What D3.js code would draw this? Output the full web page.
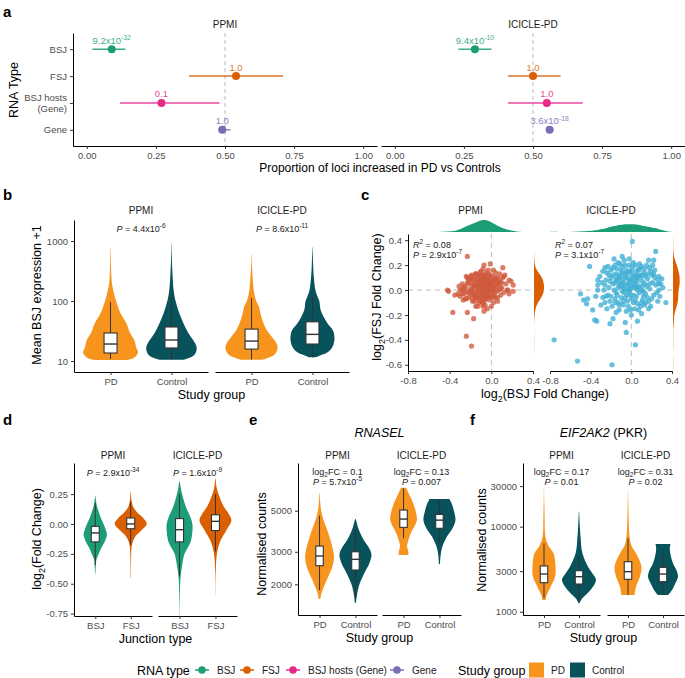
<!DOCTYPE html>
<html>
<head>
<meta charset="utf-8">
<script src="https://cdn.jsdelivr.net/npm/d3@7"></script>
<style>
  body { margin: 0; background: #fff; }
</style>
</head>
<body>
<div id="main"></div>
<script>
// ---------- panel a: proportion of loci increased in PD
var rnaTypes = ["BSJ", "FSJ", "BSJ hosts (Gene)", "Gene"];
var rnaColours = ["#1B9E77", "#D95F02", "#E7298A", "#7570B3"];
var cohorts = ["PPMI", "ICICLE-PD"];
var propPPMI = [0.09, 0.54, 0.27, 0.49];
var lowPPMI = [0.02, 0.37, 0.12, 0.475];
var highPPMI = [0.14, 0.71, 0.48, 0.52];
var pvalPPMI = ["9.2x10^{-32}", "1.0", "0.1", "1.0"];
var propICICLE = [0.29, 0.50, 0.55, 0.56];
var lowICICLE = [0.23, 0.41, 0.41, 0.55];
var highICICLE = [0.35, 0.60, 0.68, 0.575];
var pvalICICLE = ["9.4x10^{-10}", "1.0", "1.0", "3.6x10^{-18}"];
var propTicks = [0, 0.25, 0.5, 0.75, 1];

// ---------- panel b: mean BSJ expression (violin profiles: [value, relative density])
var groups = ["PD", "Control"];
var groupColours = ["#F7941D", "#08525C"];
var bsjPvals = ["*P* = 4.4x10^{-6}", "*P* = 8.6x10^{-11}"];
var bsjTicks = [10, 100, 1000];
var bsjPdPPMI = [[10.4, 0.6], [11, 0.8], [12.5, 0.95], [14, 1.0], [17, 0.93], [22, 0.87], [30, 0.7], [42, 0.58], [60, 0.38], [80, 0.27], [100, 0.2], [150, 0.1], [200, 0.05], [300, 0.025], [500, 0.012], [760, 0.005]];
var bsjCtrlPPMI = [[10.5, 0.45], [11.5, 0.7], [13, 0.85], [15, 0.91], [17.5, 0.91], [22, 0.8], [30, 0.6], [42, 0.44], [60, 0.3], [100, 0.15], [150, 0.08], [300, 0.035], [500, 0.015], [930, 0.004]];
var bsjPdICICLE = [[10.5, 0.4], [11.5, 0.65], [13, 0.85], [16.5, 0.95], [20, 0.9], [25, 0.75], [33, 0.55], [42, 0.44], [60, 0.33], [80, 0.27], [100, 0.17], [150, 0.08], [200, 0.055], [350, 0.02], [610, 0.005]];
var bsjCtrlICICLE = [[11.5, 0.1], [12.5, 0.3], [14, 0.55], [17, 0.72], [21, 0.79], [25, 0.8], [32, 0.75], [42, 0.55], [55, 0.4], [70, 0.3], [85, 0.27], [100, 0.25], [120, 0.18], [150, 0.11], [250, 0.05], [400, 0.025], [790, 0.005]];
// box stats: [lower whisker, Q1, median, Q3, upper whisker]
var bsjBoxPdPPMI = [10.8, 13.6, 19.2, 29.3, 96];
var bsjBoxCtrlPPMI = [10.6, 16.5, 22.4, 36.9, 125];
var bsjBoxPdICICLE = [10.6, 15.8, 21.5, 34, 112];
var bsjBoxCtrlICICLE = [11.5, 19.2, 27.8, 45, 120];

// ---------- panel c: log2 fold changes [BSJ, FSJ]
var fcPPMI = [[-0.05,0.01],[-0.03,0.02],[-0.07,-0.01],[-0.02,-0.02],[-0.09,0.03],[-0.04,0.05],[-0.06,-0.04],[-0.01,0.04],[-0.11,0.0],[-0.08,0.06],[0.0,0.0],[-0.03,-0.05],[-0.13,0.02],[-0.06,0.08],[0.02,0.03],[-0.1,-0.05],[-0.04,0.1],[0.03,-0.03],[-0.15,-0.02],[-0.12,0.07],[0.01,0.08],[-0.07,0.12],[-0.02,-0.08],[-0.09,-0.08],[0.05,0.05],[-0.17,0.04],[0.04,-0.06],[-0.14,-0.06],[-0.05,0.14],[0.06,0.1],[-0.11,0.11],[-0.19,0.0],[0.07,0.0],[-0.01,0.12],[-0.08,-0.1],[-0.2,-0.04],[0.08,0.06],[-0.16,0.09],[0.02,-0.1],[-0.12,-0.1],[0.1,0.02],[-0.22,0.05],[-0.03,0.16],[0.09,-0.04],[-0.06,-0.12],[-0.24,-0.01],[0.11,0.1],[-0.18,-0.09],[0.04,0.14],[-0.1,0.15],[-0.26,0.03],[0.12,-0.02],[-0.15,0.13],[0.0,-0.13],[-0.21,0.09],[0.14,0.05],[-0.28,-0.03],[0.06,-0.09],[-0.13,-0.13],[0.13,0.12],[-0.08,0.17],[0.02,0.16],[-0.3,0.0],[0.16,0.0],[-0.25,-0.07],[-0.19,0.12],[-0.04,-0.15],[0.08,0.13],[-0.23,0.1],[0.17,0.08],[-0.06,0.03],[-0.02,0.06],[-0.08,0.0],[-0.04,-0.02],[0.0,0.05],[-0.1,0.04],[-0.05,-0.06],[-0.01,-0.04],[-0.12,-0.03],[-0.07,0.09],[0.03,0.01],[-0.03,0.08],[-0.09,-0.03],[0.01,-0.06],[-0.14,0.05],[-0.06,0.06],[-0.11,0.08],[0.04,0.09],[-0.16,-0.05],[0.05,-0.01],[-0.23,0.27],[-0.42,0.0],[-0.41,-0.01],[-0.37,-0.18],[-0.24,-0.37],[-0.19,-0.45],[-0.17,-0.23],[-0.23,-0.18],[-0.15,-0.13],[-0.08,-0.13],[-0.07,-0.17],[-0.32,-0.03],[-0.28,0.0],[-0.07,0.2],[-0.01,0.21],[0.11,0.18],[0.21,-0.01],[0.21,0.04],[0.15,0.0],[0.12,0.11],[-0.35,-0.04],[0.19,0.07],[0.17,-0.03],
  [-0.25,0.02],[-0.22,-0.02],[-0.2,0.01],[-0.18,-0.01],[-0.16,0.02],[-0.14,0.03],[-0.12,0.0],[-0.1,0.01],[-0.08,-0.01],[-0.06,0.02],[-0.04,0.0],[-0.02,0.02],[0.0,0.01],[0.02,-0.01],[-0.23,0.06],[-0.21,0.08],[-0.17,0.09],[-0.13,0.1],[-0.09,0.07],[-0.05,0.09],[-0.01,0.06],[0.03,0.08],[0.05,0.03],[-0.26,-0.03],[-0.22,-0.06],[-0.18,-0.07],[-0.14,-0.06],[-0.1,-0.09],[-0.06,-0.08],[-0.02,-0.06],[0.02,-0.05],[-0.16,-0.09],[-0.12,-0.07],[-0.08,-0.11],[-0.04,-0.03],[-0.19,0.11],[-0.15,0.13],[-0.11,0.14],[-0.07,0.12],[-0.03,0.13],[0.01,0.11],[0.05,0.07],[0.07,0.04],[0.09,0.01],[-0.28,0.05],[-0.3,-0.05],[-0.27,-0.08],[-0.24,0.11],[-0.31,0.03],[0.06,-0.06],[0.04,0.1],[-0.18,0.04],[-0.14,-0.02],[-0.1,0.05],[-0.06,0.04],[-0.02,0.05],[-0.12,0.07],[-0.16,0.06],[-0.08,0.09],[-0.04,-0.05],[-0.2,0.07],[-0.22,0.09],[0.0,0.04],[-0.13,0.12],[-0.09,-0.04],[-0.05,0.11],[-0.17,-0.04],[-0.11,0.04],[0.01,0.06],[-0.07,-0.07],[0.1,0.06],[0.08,0.08],[-0.24,-0.07],[-0.27,0.01],[-0.02,0.1],[-0.1,0.11],[-0.19,-0.01],[-0.15,-0.05]];
var fcICICLE = [[0.01,0.39],[-0.76,-0.4],[-0.53,-0.57],[-0.19,-0.6],[0.04,-0.44],[-0.05,-0.34],[-0.41,0.19],[-0.5,-0.03],[0.34,-0.1],[0.24,0.31],[-0.34,-0.25],[-0.36,-0.24],[-0.18,-0.23],[-0.21,-0.27],[0.06,-0.25],[-0.06,-0.26],[-0.38,-0.16],[-0.44,-0.11],[-0.43,-0.07],[-0.47,-0.08],[0.27,0.0],[0.29,0.05],[0.22,0.24],[0.17,0.24],[-0.09,0.27],[-0.17,0.25],[-0.02,0.25],[-0.23,0.19],[-0.28,0.15],[-0.31,0.11],[-0.33,0.04],[-0.33,0.0],[0.27,0.11],[0.22,0.13],[0.17,-0.15],[0.1,-0.19],[0.0,-0.2],[-0.25,0.08],[-0.22,0.02],[-0.2,-0.05],[-0.18,0.12],[-0.16,0.06],[-0.15,-0.02],[-0.14,0.17],[-0.13,-0.1],[-0.12,0.1],[-0.11,0.03],[-0.1,-0.06],[-0.09,0.14],[-0.08,0.06],[-0.07,-0.02],[-0.06,0.2],[-0.05,0.1],[-0.04,-0.09],[-0.03,0.04],[-0.02,0.15],[-0.01,-0.04],[0.0,0.08],[0.01,0.18],[0.02,-0.1],[0.03,0.02],[0.04,0.12],[0.05,-0.05],[0.06,0.07],[0.07,0.16],[0.08,-0.02],[0.09,0.1],[0.1,0.03],[0.11,-0.08],[0.12,0.14],[0.13,0.05],[0.14,-0.03],[0.15,0.2],[0.16,0.09],[0.18,0.01],[0.19,0.15],[0.2,-0.07],[0.21,0.06],[0.23,0.1],[0.25,-0.02],[-0.27,0.0],[-0.26,-0.1],[-0.24,0.14],[-0.23,-0.04],[-0.21,0.07],[-0.19,-0.13],[-0.17,0.0],[-0.16,0.2],[-0.14,0.08],[-0.13,0.02],[-0.12,-0.16],[-0.11,0.21],[-0.1,0.11],[-0.09,-0.01],[-0.08,-0.12],[-0.07,0.09],[-0.06,0.01],[-0.05,0.16],[-0.04,0.05],[-0.03,-0.13],[-0.02,0.09],[-0.01,0.01],[0.0,-0.07],[0.01,0.12],[0.02,0.05],[0.03,-0.15],[0.04,0.2],[0.05,0.1],[0.06,-0.11],[0.07,0.03],[0.08,0.12],[0.09,-0.13],[0.1,0.19],[0.11,0.07],[0.12,-0.01],[0.13,-0.12],[0.14,0.11],[0.15,0.03],[0.17,-0.09],[0.18,0.18],[0.2,0.12],[0.22,-0.04],[0.24,0.04],[0.26,0.08],[0.28,-0.05],[0.3,0.09],[-0.29,0.06],[-0.28,-0.06],[-0.3,-0.12],[-0.26,0.18],[-0.2,0.16],[-0.15,0.13],[-0.05,-0.17],[0.05,0.15],[-0.1,0.07],[-0.06,0.13],[-0.02,-0.01],[0.02,0.1],[0.06,0.0],[-0.12,0.05],[-0.08,0.02],[-0.04,-0.04],[0.0,0.03],[0.03,0.07],[-0.16,-0.07],[-0.2,0.1],[0.1,-0.1],[0.13,0.17],[-0.24,-0.15],[-0.15,-0.18],[0.08,0.21],[-0.07,0.24],[0.19,-0.13],[0.26,-0.09],[-0.33,0.08],[-0.35,-0.05],[0.31,0.02],[0.21,0.2],
  [-0.08,0.04],[-0.02,0.07],[0.04,0.04],[-0.12,0.12],[-0.04,0.13],[0.06,0.11],[-0.14,-0.04],[-0.06,-0.06],[0.02,-0.04],[0.1,0.0],[-0.18,0.05],[-0.1,0.16],[0.0,0.15],[0.08,0.17],[-0.16,-0.1],[-0.08,-0.09],[0.04,-0.08],[0.12,-0.05],[-0.22,0.12],[0.16,0.13],[-0.02,0.2],[-0.12,-0.12],[0.14,-0.1],[-0.26,0.04],[0.18,0.05],[0.23,0.16],[-0.18,0.18],[-0.01,-0.16],[0.07,-0.16],[-0.21,-0.09],[-0.03,0.0],[0.05,0.02],[-0.15,0.09],[0.11,0.12],[-0.09,0.19],[0.02,0.22],[-0.25,-0.05],[0.27,0.05],[0.16,-0.06],[-0.13,0.22]];
var fcColours = ["#D05A3C", "#3DAED3"];
var fcStats = [["*R*^{2} = 0.08", "*P* = 2.9x10^{-7}"], ["*R*^{2} = 0.07", "*P* = 3.1x10^{-7}"]];
var fcXTicks = [-0.8, -0.4, 0, 0.4];
var fcYTicks = [-0.6, -0.4, -0.2, 0, 0.2, 0.4];

// ---------- panel d: log2 fold change by junction type
var junctions = ["BSJ", "FSJ"];
var junctionColours = ["#1B9E77", "#D95F02"];
var junctionPvals = ["*P* = 2.9x10^{-34}", "*P* = 1.6x10^{-9}"];
var junctionTicks = [-0.75, -0.5, -0.25, 0, 0.25];
var jBsjPPMI = [[-0.42, 0.01], [-0.34, 0.04], [-0.3, 0.07], [-0.25, 0.22], [-0.2, 0.38], [-0.15, 0.58], [-0.09, 0.73], [-0.05, 0.66], [0.0, 0.52], [0.05, 0.35], [0.1, 0.22], [0.15, 0.1], [0.2, 0.04], [0.235, 0.01]];
var jFsjPPMI = [[-0.45, 0.01], [-0.3, 0.02], [-0.2, 0.05], [-0.15, 0.12], [-0.1, 0.31], [-0.05, 0.69], [0.0, 1.0], [0.05, 0.78], [0.1, 0.38], [0.15, 0.13], [0.2, 0.05], [0.27, 0.01]];
var jBsjICICLE = [[-0.78, 0.005], [-0.6, 0.02], [-0.45, 0.06], [-0.35, 0.16], [-0.25, 0.31], [-0.15, 0.69], [-0.05, 0.81], [0.0, 0.8], [0.05, 0.7], [0.15, 0.38], [0.25, 0.16], [0.3, 0.08], [0.355, 0.02]];
var jFsjICICLE = [[-0.6, 0.005], [-0.4, 0.02], [-0.25, 0.09], [-0.15, 0.28], [-0.05, 0.69], [0.03, 1.0], [0.08, 0.85], [0.15, 0.5], [0.25, 0.19], [0.3, 0.08], [0.38, 0.01]];
var jBoxBsjPPMI = [-0.345, -0.15, -0.075, -0.02, 0.175];
var jBoxFsjPPMI = [-0.175, -0.04, 0.0, 0.05, 0.185];
var jBoxBsjICICLE = [-0.44, -0.15, -0.048, 0.045, 0.25];
var jBoxFsjICICLE = [-0.23, -0.055, 0.022, 0.077, 0.25];

// ---------- panel e: RNASEL normalised counts
var rnaselNotes = [["log_{2}FC = 0.1", "*P* = 5.7x10^{-5}"], ["log_{2}FC = 0.13", "*P* = 0.007"]];
var rnaselTicks = [2000, 3000, 5000];
var rnaselPdPPMI = [[1668, 0.05], [1800, 0.13], [2110, 0.45], [2490, 0.8], [2845, 0.9], [3472, 0.68], [4000, 0.45], [4450, 0.25], [5000, 0.1], [5600, 0.04], [6250, 0.01]];
var rnaselCtrlPPMI = [[1585, 0.03], [1800, 0.12], [2000, 0.25], [2300, 0.56], [2600, 0.87], [2900, 1.0], [3200, 0.8], [3500, 0.5], [4000, 0.19], [4500, 0.03]];
var rnaselPdICICLE = [[2877, 0.3], [3000, 0.3], [3200, 0.22], [3340, 0.25], [3787, 0.46], [4448, 0.83], [5000, 0.75], [5483, 0.6], [6000, 0.4], [6400, 0.25], [6650, 0.15]];
var rnaselCtrlICICLE = [[2570, 0.03], [2900, 0.08], [3190, 0.18], [3614, 0.46], [4000, 0.8], [4448, 1.0], [5000, 0.9], [5500, 0.75], [5780, 0.62]];
var rnaselBoxPdPPMI = [1862, 2521, 2845, 3221, 4700];
var rnaselBoxCtrlPPMI = [1700, 2390, 2730, 3000, 3900];
var rnaselBoxPdICICLE = [3550, 4064, 4508, 5042, 6610];
var rnaselBoxCtrlICICLE = [3333, 4018, 4448, 4776, 5780];

// ---------- panel f: EIF2AK2 (PKR) normalised counts
var pkrNotes = [["log_{2}FC = 0.17", "*P* = 0.01"], ["log_{2}FC = 0.31", "*P* = 0.02"]];
var pkrTicks = [1000, 3000, 10000, 30000];
var pkrPdPPMI = [[1373, 0.1], [1500, 0.12], [1968, 0.39], [2580, 0.65], [3390, 0.68], [4865, 0.56], [5820, 0.3], [7000, 0.12], [9000, 0.05], [12000, 0.04], [20000, 0.015], [30000, 0.005]];
var pkrCtrlPPMI = [[1255, 0.03], [1400, 0.15], [1645, 0.5], [2000, 0.85], [2405, 1.0], [2900, 0.75], [3390, 0.53], [4865, 0.2], [7620, 0.09], [10000, 0.05], [15000, 0.01]];
var pkrPdICICLE = [[1570, 0.39], [1968, 0.47], [2580, 0.7], [3390, 0.79], [4865, 0.47], [6000, 0.2], [7620, 0.09], [12000, 0.04], [20000, 0.015], [27000, 0.005]];
var pkrCtrlICICLE = [[1570, 0.3], [1800, 0.53], [2200, 0.75], [2580, 0.88], [3000, 0.82], [3700, 0.59], [4645, 0.45], [5500, 0.4], [6250, 0.44]];
var pkrBoxPdPPMI = [1438, 2193, 2774, 3450, 6380];
var pkrBoxCtrlPPMI = [1350, 2118, 2580, 3035, 4400];
var pkrBoxPdICICLE = [1570, 2405, 2957, 3873, 7290];
var pkrBoxCtrlICICLE = [1570, 2255, 2774, 3325, 4900];

// ---------- drawing
var FONT = "'Liberation Sans', Arial, Helvetica, sans-serif";
var grey = "#4D4D4D";
var dash = "#BDBDBD";
var fmt = d3.formatLocale({ decimal: ".", thousands: ",", grouping: [3], currency: ["", ""], minus: "-" });

var svg = d3.select("#main").append("svg")
  .attr("width", 685).attr("height", 678)
  .attr("font-family", FONT);

// tiny markup: ^{sup} _{sub} *italic*
function rich(sel, str, size) {
  var parts = str.split(/(\^\{[^}]*\}|_\{[^}]*\}|\*[^*]*\*)/).filter(function (s) { return s !== ""; });
  var shift = 0;
  parts.forEach(function (p) {
    var t = sel.append("tspan"), dy = 0;
    if (p[0] === "^") { t.text(p.slice(2, -1)).attr("font-size", size * 0.72); dy = -size * 0.38; }
    else if (p[0] === "_") { t.text(p.slice(2, -1)).attr("font-size", size * 0.72); dy = size * 0.28; }
    else if (p[0] === "*") { t.text(p.slice(1, -1)).attr("font-style", "italic"); }
    else t.text(p);
    if (dy - shift !== 0) t.attr("dy", dy - shift);
    shift = dy;
  });
  return sel;
}

function text(x, y, str, size, opts) {
  opts = opts || {};
  var t = svg.append("text").attr("x", x).attr("y", y)
    .attr("font-size", size).attr("fill", opts.fill || "#000")
    .attr("text-anchor", opts.anchor || "middle");
  if (opts.weight) t.attr("font-weight", opts.weight);
  return rich(t, str, size);
}

function vtext(x, y, str, size) {
  var t = svg.append("text").attr("transform", "translate(" + x + "," + y + ") rotate(-90)")
    .attr("font-size", size).attr("text-anchor", "middle").attr("dy", "0.35em");
  return rich(t, str, size);
}

function styleAxis(g) {
  g.attr("font-family", FONT).attr("font-size", 9.5);
  g.select(".domain").attr("stroke", "#000").attr("stroke-width", 1);
  g.selectAll(".tick line").attr("stroke", "#333");
  g.selectAll(".tick text").attr("fill", grey);
  return g;
}

function panelLabel(x, y, s) {
  svg.append("text").attr("x", x).attr("y", y).attr("font-size", 15)
    .attr("font-weight", "bold").text(s);
}

// ===== panel a
(function () {
  var facets = [[73, 377], [381, 685]];
  var props = [propPPMI, propICICLE], lows = [lowPPMI, lowICICLE],
      highs = [highPPMI, highICICLE], pvals = [pvalPPMI, pvalICICLE];
  var y = d3.scalePoint().domain(rnaTypes).range([33, 146]).padding(0.6);
  facets.forEach(function (fr, fi) {
    var x = d3.scaleLinear().domain([-0.05, 1.05]).range(fr);
    svg.append("line").attr("x1", x(0.5)).attr("x2", x(0.5)).attr("y1", 33).attr("y2", 146)
      .attr("stroke", dash).attr("stroke-dasharray", "4,3");
    var g = svg.append("g");
    rnaTypes.forEach(function (t, i) {
      var yy = y(t);
      g.append("line").attr("x1", x(lows[fi][i])).attr("x2", x(highs[fi][i]))
        .attr("y1", yy).attr("y2", yy).attr("stroke", rnaColours[i])
        .attr("stroke-width", 1.5).attr("opacity", 0.85);
      g.append("circle").attr("cx", x(props[fi][i])).attr("cy", yy).attr("r", 4)
        .attr("fill", rnaColours[i]);
      text(x(props[fi][i]), yy - 5.5, pvals[fi][i], 9.5, { fill: rnaColours[i] }).attr("opacity", 0.85);
    });
    styleAxis(svg.append("g").attr("transform", "translate(0,146)")
      .call(d3.axisBottom(x).tickValues(propTicks).tickFormat(fmt.format(".2f")).tickSize(3).tickSizeOuter(0)));
    text((fr[0] + fr[1]) / 2, 27.5, cohorts[fi], 10, { fill: "#1A1A1A" });
  });
  var ya = styleAxis(svg.append("g").attr("transform", "translate(73,0)")
    .call(d3.axisLeft(y).tickSize(3).tickSizeOuter(0)));
  ya.selectAll(".tick text").filter(function (d) { return d === "BSJ hosts (Gene)"; })
    .each(function () {
      var t = d3.select(this).text(null);
      t.append("tspan").attr("x", -6).attr("dy", "-0.25em").text("BSJ hosts");
      t.append("tspan").attr("x", -6).attr("dy", "1.15em").text("(Gene)");
    });
  vtext(14, 90, "RNA Type", 12.5);
  text(380, 172, "Proportion of loci increased in PD vs Controls", 12);
  panelLabel(3, 17, "a");
})();

// ===== generic faceted violin panel (b, d, e, f)
function violinPanel(cfg) {
  var w = d3.scaleLinear().domain([0, 1]).range([0, cfg.half]);
  cfg.facets.forEach(function (fr, fi) {
    var x = d3.scalePoint().domain(cfg.cats).range(fr).padding(0.6);
    var g = svg.append("g");
    cfg.cats.forEach(function (c, ci) {
      var cx = x(c), b = cfg.boxes[fi][ci];
      var area = d3.area().curve(d3.curveCatmullRom)
        .y(function (d) { return cfg.y(d[0]); })
        .x0(function (d) { return cx - w(d[1]); })
        .x1(function (d) { return cx + w(d[1]); });
      g.append("path").datum(cfg.profiles[fi][ci]).attr("d", area).attr("fill", cfg.colours[ci]);
      g.append("line").attr("x1", cx).attr("x2", cx).attr("y1", cfg.y(b[0])).attr("y2", cfg.y(b[4]))
        .attr("stroke", "#333").attr("stroke-width", 1);
      g.append("rect").attr("x", cx - cfg.boxW / 2).attr("width", cfg.boxW)
        .attr("y", cfg.y(b[3])).attr("height", cfg.y(b[1]) - cfg.y(b[3]))
        .attr("fill", "#fff").attr("stroke", "#333").attr("stroke-width", 1.1);
      g.append("line").attr("x1", cx - cfg.boxW / 2).attr("x2", cx + cfg.boxW / 2)
        .attr("y1", cfg.y(b[2])).attr("y2", cfg.y(b[2])).attr("stroke", "#333").attr("stroke-width", 1.4);
    });
    styleAxis(svg.append("g").attr("transform", "translate(0," + cfg.y.range()[0] + ")")
      .call(d3.axisBottom(x).tickSize(3).tickSizeOuter(0)));
    var mid = (fr[0] + fr[1]) / 2;
    text(mid, cfg.stripY, cohorts[fi], 10, { fill: "#1A1A1A" });
    cfg.notes[fi].forEach(function (n, k) { text(mid, cfg.noteY + k * 10, n, 9, { fill: "#1A1A1A" }); });
  });
  styleAxis(svg.append("g").attr("transform", "translate(" + cfg.facets[0][0] + ",0)")
    .call(d3.axisLeft(cfg.y).tickValues(cfg.ticks).tickFormat(cfg.fmt).tickSize(3).tickSizeOuter(0)));
  var x0 = cfg.facets[0][0], x1 = cfg.facets[cfg.facets.length - 1][1];
  text((x0 + x1) / 2, cfg.y.range()[0] + 27, cfg.xTitle, 12.5);
  vtext(cfg.yTitleX, cfg.yTitleY, cfg.yTitle, 12.5);
  if (cfg.title) text((x0 + x1) / 2, 437, cfg.title, 12.5);
}

// ===== panel b
violinPanel({
  facets: [[74, 208], [215, 349]], cats: groups, colours: groupColours,
  y: d3.scaleLog().domain([6.56, 2240]).range([372, 220]),
  ticks: bsjTicks, fmt: d3.format("d"),
  profiles: [[bsjPdPPMI, bsjCtrlPPMI], [bsjPdICICLE, bsjCtrlICICLE]],
  boxes: [[bsjBoxPdPPMI, bsjBoxCtrlPPMI], [bsjBoxPdICICLE, bsjBoxCtrlICICLE]],
  half: 27.5, boxW: 13, stripY: 213.5, notes: [[bsjPvals[0]], [bsjPvals[1]]], noteY: 231.5,
  xTitle: "Study group", yTitle: "Mean BSJ expression +1", yTitleX: 37, yTitleY: 295
});
panelLabel(3, 200, "b");

// ===== panel c
(function () {
  var facets = [[408, 533], [550, 672]];
  var sets = [fcPPMI, fcICICLE];
  var y = d3.scaleLinear().domain([-0.65, 0.45]).range([371, 234]);
  var bwx = 0.045, bwy = 0.035;
  function kde(vals, bw, grid) {
    return grid.map(function (g) {
      return [g, d3.mean(vals, function (v) { var u = (g - v) / bw; return Math.exp(-0.5 * u * u); }) / (bw * 2.5066)];
    });
  }
  var gridX = d3.range(-0.8, 0.4001, 0.01), gridY = d3.range(-0.65, 0.4501, 0.01);
  var kx = [kde(fcPPMI.map(function (d) { return d[0]; }), bwx, gridX), kde(fcICICLE.map(function (d) { return d[0]; }), bwx, gridX)];
  var ky = [kde(fcPPMI.map(function (d) { return d[1]; }), bwy, gridY), kde(fcICICLE.map(function (d) { return d[1]; }), bwy, gridY)];
  var hx = d3.scaleLinear().domain([0, d3.max(kx[0], function (d) { return d[1]; })]).range([0, 12]);
  var hy = d3.scaleLinear().domain([0, d3.max(ky[0], function (d) { return d[1]; })]).range([0, 10]);
  facets.forEach(function (fr, fi) {
    var x = d3.scaleLinear().domain([-0.8, 0.4]).range(fr);
    var g = svg.append("g");
    g.append("line").attr("x1", x(0)).attr("x2", x(0)).attr("y1", 234).attr("y2", 371)
      .attr("stroke", dash).attr("stroke-dasharray", "5,4");
    g.append("line").attr("x1", fr[0]).attr("x2", fr[1]).attr("y1", y(0)).attr("y2", y(0))
      .attr("stroke", dash).attr("stroke-dasharray", "5,4");
    g.selectAll("circle").data(sets[fi]).enter().append("circle")
      .attr("cx", function (d) { return x(d[0]); }).attr("cy", function (d) { return y(d[1]); })
      .attr("r", 2.6).attr("fill", fcColours[fi]).attr("fill-opacity", 0.78);
    // marginal densities
    svg.append("path").datum(kx[fi]).attr("fill", "#1B9E77")
      .attr("d", d3.area().x(function (d) { return x(d[0]); }).y0(232).y1(function (d) { return 232 - hx(d[1]); }));
    svg.append("path").datum(ky[fi]).attr("fill", "#D95F02")
      .attr("d", d3.area().y(function (d) { return y(d[0]); }).x0(fr[1] + 1).x1(function (d) { return fr[1] + 1 + hy(d[1]); }));
    styleAxis(svg.append("g").attr("transform", "translate(0,371)")
      .call(d3.axisBottom(x).tickValues(fcXTicks).tickFormat(fmt.format(".1f")).tickSize(3).tickSizeOuter(0)));
    var mid = (fr[0] + fr[1]) / 2;
    text(mid, 213.5, cohorts[fi], 10, { fill: "#1A1A1A" });
    text(fr[0] + 5, 247.5, fcStats[fi][0], 9, { anchor: "start", fill: "#1A1A1A" });
    text(fr[0] + 5, 257.5, fcStats[fi][1], 9, { anchor: "start", fill: "#1A1A1A" });
  });
  styleAxis(svg.append("g").attr("transform", "translate(408,0)")
    .call(d3.axisLeft(y).tickValues(fcYTicks).tickFormat(fmt.format(".1f")).tickSize(3).tickSizeOuter(0)));
  text(545, 398, "log_{2}(BSJ Fold Change)", 12.5);
  vtext(377, 297, "log_{2}(FSJ Fold Change)", 12.5);
  panelLabel(361, 200, "c");
})();

// ===== panel d
violinPanel({
  facets: [[74, 152], [158, 237]], cats: junctions, colours: junctionColours,
  y: d3.scaleLinear().domain([-0.77, 0.51]).range([616, 463]),
  ticks: junctionTicks, fmt: fmt.format(".2f"),
  profiles: [[jBsjPPMI, jFsjPPMI], [jBsjICICLE, jFsjICICLE]],
  boxes: [[jBoxBsjPPMI, jBoxFsjPPMI], [jBoxBsjICICLE, jBoxFsjICICLE]],
  half: 16, boxW: 8, stripY: 458.5, notes: [[junctionPvals[0]], [junctionPvals[1]]], noteY: 475.5,
  xTitle: "Junction type", yTitle: "log_{2}(Fold Change)", yTitleX: 37, yTitleY: 539
});
panelLabel(3, 425, "d");

// ===== panel e
violinPanel({
  facets: [[298, 377], [382, 461]], cats: groups, colours: groupColours,
  y: d3.scaleLog().domain([1365, 9060]).range([615, 463]),
  ticks: rnaselTicks, fmt: d3.format("d"),
  profiles: [[rnaselPdPPMI, rnaselCtrlPPMI], [rnaselPdICICLE, rnaselCtrlICICLE]],
  boxes: [[rnaselBoxPdPPMI, rnaselBoxCtrlPPMI], [rnaselBoxPdICICLE, rnaselBoxCtrlICICLE]],
  half: 16, boxW: 7.5, stripY: 458.5, notes: rnaselNotes, noteY: 474.5,
  xTitle: "Study group", yTitle: "Normalised counts", yTitleX: 262, yTitleY: 544,
  title: "*RNASEL*"
});
panelLabel(249, 425, "e");

// ===== panel f
violinPanel({
  facets: [[523, 600], [607, 684]], cats: groups, colours: groupColours,
  y: d3.scaleLog().domain([915, 56100]).range([615, 463]),
  ticks: pkrTicks, fmt: d3.format("d"),
  profiles: [[pkrPdPPMI, pkrCtrlPPMI], [pkrPdICICLE, pkrCtrlICICLE]],
  boxes: [[pkrBoxPdPPMI, pkrBoxCtrlPPMI], [pkrBoxPdICICLE, pkrBoxCtrlICICLE]],
  half: 17, boxW: 7.5, stripY: 458.5, notes: pkrNotes, noteY: 474.5,
  xTitle: "Study group", yTitle: "Normalised counts", yTitleX: 482, yTitleY: 540,
  title: "*EIF2AK2* (PKR)"
});
panelLabel(470, 425, "f");

// ===== legends
(function () {
  var ly = 670;
  text(137, ly + 4.5, "RNA type", 12.5, { anchor: "start" });
  var keyX = [202, 247, 293, 397];
  rnaTypes.forEach(function (t, i) {
    svg.append("line").attr("x1", keyX[i] - 7).attr("x2", keyX[i] + 7).attr("y1", ly).attr("y2", ly)
      .attr("stroke", rnaColours[i]).attr("stroke-width", 1.5);
    svg.append("circle").attr("cx", keyX[i]).attr("cy", ly).attr("r", 3.8).attr("fill", rnaColours[i]);
    text(keyX[i] + 15, ly + 3.5, t, 10, { anchor: "start", fill: "#1A1A1A" });
  });
  text(458, ly + 4.5, "Study group", 12.5, { anchor: "start" });
  var boxX = [529, 570];
  groups.forEach(function (gname, i) {
    svg.append("rect").attr("x", boxX[i]).attr("y", ly - 7.5).attr("width", 15).attr("height", 15)
      .attr("fill", groupColours[i]);
    text(boxX[i] + 22, ly + 3.5, gname, 10, { anchor: "start", fill: "#1A1A1A" });
  });
})();
</script>
</body>
</html>
